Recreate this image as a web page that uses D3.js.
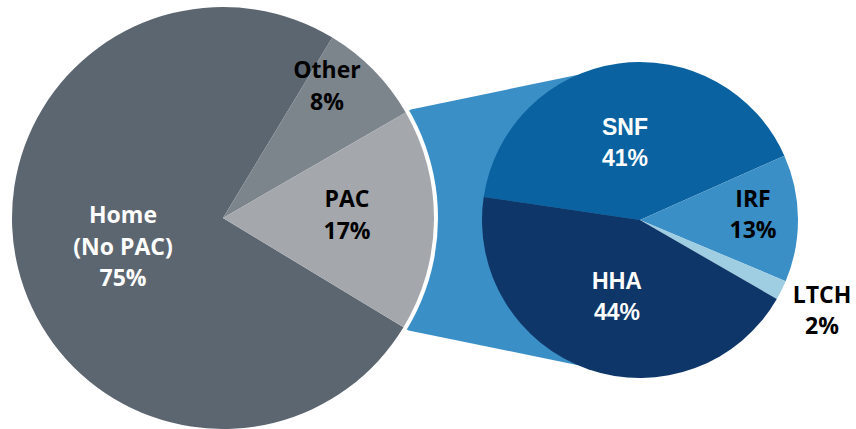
<!DOCTYPE html>
<html>
<head>
<meta charset="utf-8">
<script src="https://cdn.jsdelivr.net/npm/d3@7"></script>
<style>
  html, body { margin: 0; padding: 0; background: #fff; }
  svg { display: block; }
</style>
</head>
<body>
<svg id="chart" width="856" height="429"></svg>
<script>
// Discharge destinations: overall split, and the post-acute care (PAC) breakdown
const mainCategories = ["Home", "Other", "PAC"];
const mainLabels = [["Home", "(No PAC)"], ["Other"], ["PAC"]];
const mainValues = [75, 8, 17];
const mainColors = ["#5c6670", "#7c848c", "#a4a8ac"];
const mainTextColors = ["#ffffff", "#000000", "#000000"];

const pacCategories = ["SNF", "IRF", "LTCH", "HHA"];
const pacValues = [41, 13, 2, 44];
const pacColors = ["#0a63a0", "#3a8fc6", "#9fcde2", "#0f3668"];
const pacTextColors = ["#ffffff", "#000000", "#000000", "#ffffff"];

const deg = Math.PI / 180;
const svg = d3.select("#chart");

// ---- layout ----
const L = { cx: 223, cy: 218, r: 211 };
const R = { cx: 640, cy: 220, r: 158 };
const bandColor = "#3a8fc6";
const gap = 4;

// Main pie: PAC slice faces the breakdown pie on the right
const pacSpan = 360 * mainValues[2] / d3.sum(mainValues);
const pacMid = 90.6;
const mainStart = (pacMid + pacSpan / 2) * deg; // Home starts right after PAC ends
const mainPie = d3.pie().sort(null).value(d => d)
  .startAngle(mainStart).endAngle(mainStart + 2 * Math.PI);
const mainArcs = mainPie(mainValues);

const pacStart = -81.6 * deg;
const subPie = d3.pie().sort(null).value(d => d)
  .startAngle(pacStart).endAngle(pacStart + 2 * Math.PI);
const subArcs = subPie(pacValues);

// ---- connector band between PAC slice and breakdown pie ----
const pacArc = mainArcs[2];
const polar = (c, rad, a) => [c.cx + rad * Math.sin(a), c.cy - rad * Math.cos(a)];
const bandPts = [
  [L.cx, L.cy],
  polar(L, L.r + gap + 2, pacArc.startAngle),
  [R.cx, R.cy - R.r],
  [R.cx, R.cy + R.r],
  polar(L, L.r + gap + 2, pacArc.endAngle)
];
svg.append("path")
  .attr("d", d3.line()(bandPts) + "Z")
  .attr("fill", bandColor);

// white gap ring around the main pie
svg.append("circle")
  .attr("cx", L.cx).attr("cy", L.cy).attr("r", L.r + gap)
  .attr("fill", "#fff");

// ---- main pie ----
const mainArcGen = d3.arc().innerRadius(0).outerRadius(L.r);
const gMain = svg.append("g").attr("transform", `translate(${L.cx},${L.cy})`);
gMain.selectAll("path").data(mainArcs).join("path")
  .attr("d", mainArcGen)
  .attr("fill", (d, i) => mainColors[i]);

// ---- breakdown pie ----
const subArcGen = d3.arc().innerRadius(0).outerRadius(R.r);
const gSub = svg.append("g").attr("transform", `translate(${R.cx},${R.cy})`);
gSub.selectAll("path").data(subArcs).join("path")
  .attr("d", subArcGen)
  .attr("fill", (d, i) => pacColors[i]);

// ---- labels ----
const fmt = v => v + "%";
function label(x, y, lines, color, family, lh) {
  const t = svg.append("text")
    .attr("x", x).attr("y", y)
    .attr("text-anchor", "middle")
    .attr("fill", color)
    .style("font-family", family)
    .style("font-weight", 700)
    .style("font-size", "23px");
  lines.forEach((s, i) => {
    t.append("tspan").attr("x", x).attr("dy", i === 0 ? 0 : lh).text(s);
  });
}

const openSans = "'Open Sans', 'Noto Sans', sans-serif";
const arial = "'Liberation Sans', Arial, sans-serif";

// main pie label anchors (first baseline)
const mainLabelPos = [[123, 223], [327, 78], [347, 207]];
mainValues.forEach((v, i) => {
  label(mainLabelPos[i][0], mainLabelPos[i][1],
    mainLabels[i].concat([fmt(v)]), mainTextColors[i], openSans, 31.5);
});

const subLabelPos = [[625, 135], [753, 207], [822, 303], [617, 289]];
const subFonts = [arial, openSans, openSans, arial];
pacValues.forEach((v, i) => {
  label(subLabelPos[i][0], subLabelPos[i][1],
    [pacCategories[i], fmt(v)], pacTextColors[i], subFonts[i], 31);
});
</script>
</body>
</html>
